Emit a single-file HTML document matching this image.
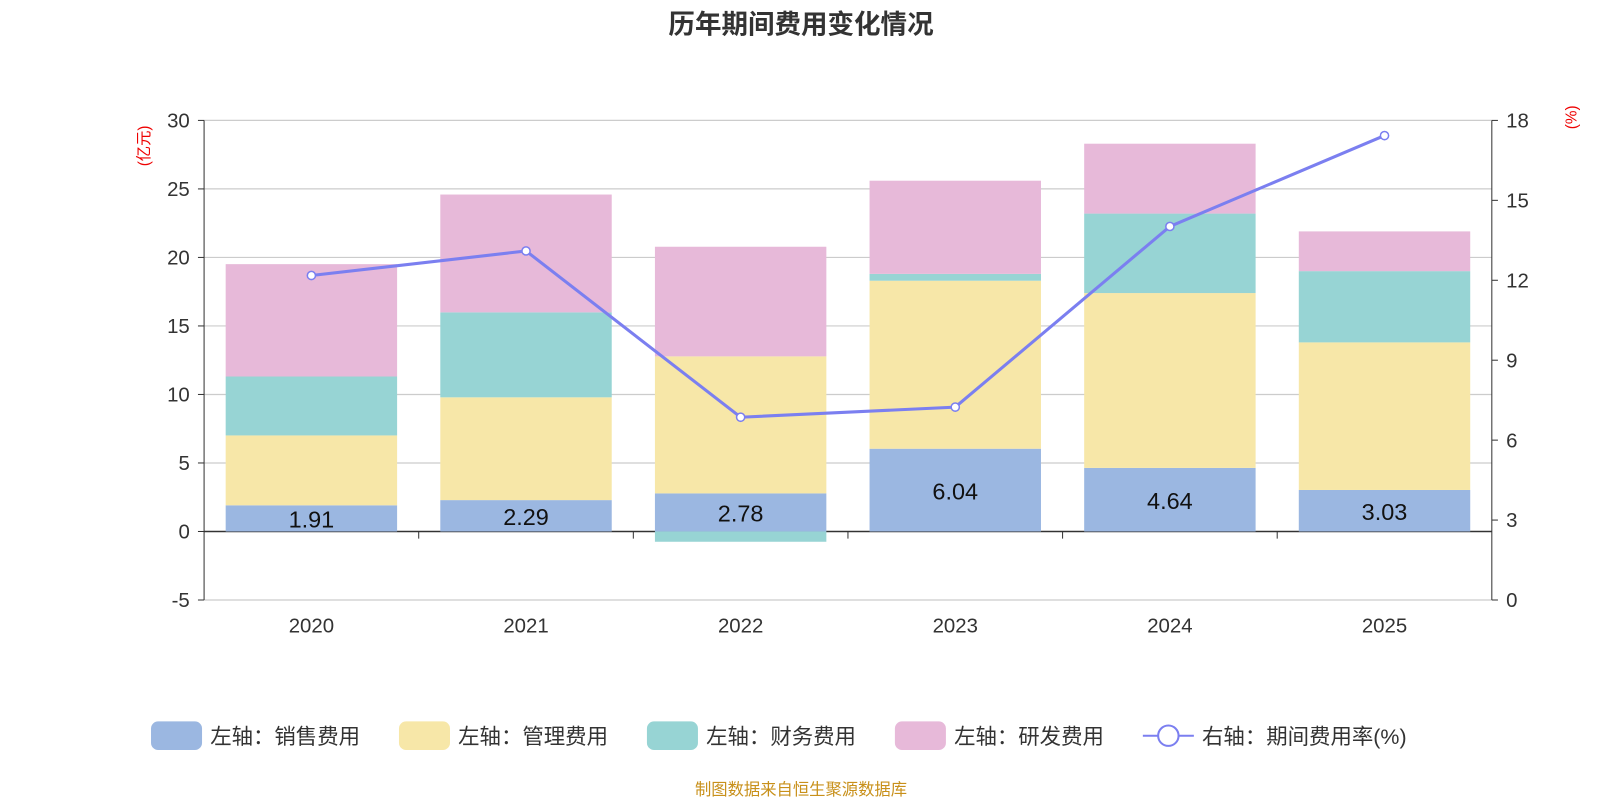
<!DOCTYPE html>
<html><head><meta charset="utf-8">
<style>
body{margin:0;background:#fff;width:1600px;height:800px;overflow:hidden;font-family:"Liberation Sans","Noto Sans CJK SC",sans-serif;}
svg text{font-family:"Liberation Sans","Noto Sans CJK SC",sans-serif;}
</style></head>
<body>
<svg id="chart" width="1600" height="800" xmlns="http://www.w3.org/2000/svg">
<g transform="scale(1.0204)">
<text x="785" y="33" text-anchor="middle" font-size="26" font-weight="bold" fill="#333">历年期间费用变化情况</text>
<text transform="translate(146,143) rotate(-90)" text-anchor="middle" font-size="15" fill="#e00">(亿元)</text>
<text transform="translate(1545,115) rotate(-90)" text-anchor="middle" font-size="15" fill="#e00">(%)</text>
<g id="grid"></g><g id="bars"></g><g id="axes"></g><g id="line"></g><g id="legend"></g>
<text x="785" y="779" text-anchor="middle" font-size="16" fill="#c8901a">制图数据来自恒生聚源数据库</text>
</g>
</svg>
<script>
const years=["2020","2021","2022","2023","2024","2025"];
const sales=[1.91,2.29,2.78,6.04,4.64,3.03];
const mgmt=[5.1,7.5,10.0,12.26,12.76,10.77];
const finance=[4.3,6.2,-0.75,0.5,5.8,5.2];
const rnd=[8.2,8.6,8.0,6.8,5.1,2.9];
const rate=[12.18,13.1,6.86,7.24,14.02,17.43];
const leftTicks=[-5,0,5,10,15,20,25,30];
const rightTicks=[0,3,6,9,12,15,18];

const NS="http://www.w3.org/2000/svg";
const X0=200,X1=1462,Ytop=118,Ybot=588;
const yL=v=>Ytop+(30-v)*(Ybot-Ytop)/35;
const yR=v=>Ybot-v*(Ybot-Ytop)/18;
const bw=(X1-X0)/years.length;
const xC=i=>X0+bw*(i+0.5);
function el(t,a,p){const e=document.createElementNS(NS,t);for(const k in a)e.setAttribute(k,a[k]);document.getElementById(p).appendChild(e);return e;}

leftTicks.forEach(v=>{
  const g=el('line',{x1:X0,x2:X1,y1:yL(v),y2:yL(v),stroke:v===0?'#333':'#ccc','stroke-width':v===0?1.5:1.2},'grid');
  
  
  const t=el('text',{x:X0-14,y:yL(v)+7,'text-anchor':'end','font-size':20,fill:'#333'},'axes');t.textContent=v;
  
  
  el('line',{x1:X0-6,x2:X0,y1:yL(v),y2:yL(v),stroke:'#333'},'axes');
});
rightTicks.forEach(v=>{
  const t=el('text',{x:X1+14,y:yR(v)+7,'font-size':20,fill:'#333'},'axes');t.textContent=v;
  
  
  el('line',{x1:X1,x2:X1+6,y1:yR(v),y2:yR(v),stroke:'#333'},'axes');
});
el('line',{x1:X0,x2:X0,y1:Ytop,y2:Ybot,stroke:'#333'},'axes');
el('line',{x1:X1,x2:X1,y1:Ytop,y2:Ybot,stroke:'#333'},'axes');
for(let i=1;i<years.length;i++)el('line',{x1:X0+bw*i,x2:X0+bw*i,y1:yL(0),y2:yL(0)+7,stroke:'#333'},'axes');

const series=[[sales,'#9bb7e1','sales'],[mgmt,'#f7e7a8','mgmt'],[finance,'#97d4d4','finance'],[rnd,'#e7b9d9','rnd']];
years.forEach((y,i)=>{
  let pos=0,neg=0;const x=xC(i)-84;
  series.forEach(([arr,c,n])=>{
    const v=arr[i];let a,b;
    if(v>=0){a=pos;b=pos+v;pos=b;}else{a=neg;b=neg+v;neg=b;}
    const r=el('rect',{x:x,width:168,y:Math.min(yL(a),yL(b)),height:Math.abs(yL(a)-yL(b)),fill:c},'bars');
    
    
  });
  const t=el('text',{x:xC(i),y:(yL(0)+yL(sales[i]))/2+9,'text-anchor':'middle','font-size':23,fill:'#111'},'bars');t.textContent=sales[i].toFixed(2);
  
  
  const xl=el('text',{x:xC(i),y:620,'text-anchor':'middle','font-size':20,fill:'#333'},'axes');xl.textContent=y;
  
  
});
const pl=el('polyline',{points:rate.map((v,i)=>xC(i)+','+yR(v)).join(' '),fill:'none',stroke:'#7b7ff0','stroke-width':3},'line');


rate.forEach((v,i)=>{const c=el('circle',{cx:xC(i),cy:yR(v),r:4,fill:'#fff',stroke:'#7b7ff0','stroke-width':1.5},'line');
  
  });

const leg=[['左轴：销售费用','#9bb7e1',148],['左轴：管理费用','#f7e7a8',391],['左轴：财务费用','#97d4d4',634],['左轴：研发费用','#e7b9d9',877]];
leg.forEach(([t,c,x])=>{
  const r=el('rect',{x:x,y:707,width:50,height:28,rx:7,fill:c},'legend');
  
  
  const tx=el('text',{x:x+58,y:729,'font-size':21,fill:'#333'},'legend');tx.textContent=t;
  
  
});
el('line',{x1:1120,x2:1170,y1:721,y2:721,stroke:'#7b7ff0','stroke-width':2},'legend');
el('circle',{cx:1145,cy:721,r:10,fill:'#fff',stroke:'#7b7ff0','stroke-width':2},'legend');
const lt=el('text',{x:1178,y:729,'font-size':21,fill:'#333'},'legend');lt.textContent='右轴：期间费用率(%)';


</script>
</body></html>
